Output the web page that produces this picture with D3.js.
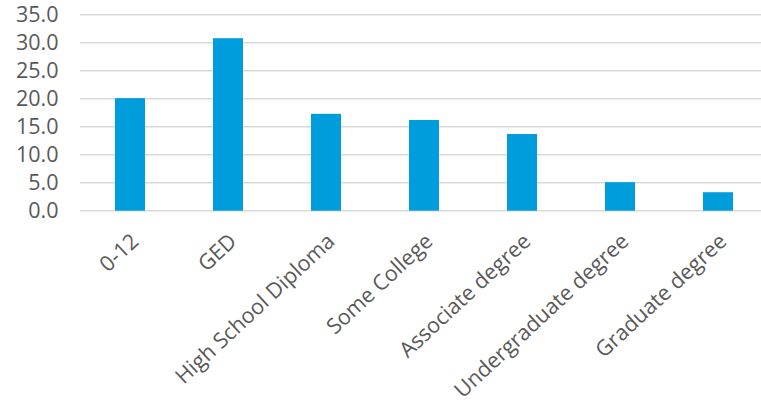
<!DOCTYPE html>
<html>
<head>
<meta charset="utf-8">
<script src="https://cdn.jsdelivr.net/npm/d3@7"></script>
<style>
html,body{margin:0;padding:0;background:#fff;}
svg{display:block;}
</style>
</head>
<body>
<svg id="chart" width="761" height="404"></svg>
<script>
const categories = ["0-12","GED","High School Diploma","Some College","Associate degree","Undergraduate degree","Graduate degree"];
const values = [20.1, 30.8, 17.3, 16.2, 13.7, 5.1, 3.3];
const yTicks = [0,5,10,15,20,25,30,35];

const svg = d3.select("#chart");
const font = "'Open Sans', sans-serif";
const textColor = "#595959";

const x = d3.scaleBand().domain(categories).range([81, 767]).paddingInner(0.694).paddingOuter(0.347);
const y = d3.scaleLinear().domain([0,35]).range([210.7, 14.7]);

// gridlines
svg.append("g").selectAll("line").data(yTicks).join("line")
  .attr("x1", 80).attr("x2", 761)
  .attr("y1", d => y(d)).attr("y2", d => y(d))
  .attr("stroke", "#d9d9d9").attr("stroke-width", 1.5);

// bars
svg.append("g").selectAll("rect").data(values).join("rect")
  .attr("x", (d,i) => x(categories[i]))
  .attr("width", x.bandwidth())
  .attr("y", d => y(d))
  .attr("height", d => y(0) - y(d))
  .attr("fill", "#009ddc");

// y axis labels
const yAxis = d3.axisLeft(y).tickValues(yTicks).tickFormat(d3.format(".1f")).tickSize(0).tickPadding(0);
const gy = svg.append("g").attr("transform", "translate(58.5,0)").call(yAxis);
gy.select(".domain").remove();
gy.selectAll("text").attr("font-family", font).attr("font-size", 21.5).attr("fill", textColor);

// x labels
const xAxis = d3.axisBottom(x).tickSize(0).tickPadding(0);
const gx = svg.append("g").call(xAxis);
gx.select(".domain").remove();
gx.selectAll(".tick").attr("transform", d => `translate(${x(d) + x.bandwidth()/2 + 10},243)`);
gx.selectAll("text")
  .attr("font-family", font).attr("font-size", 21.5).attr("fill", textColor)
  .attr("text-anchor", "end").attr("dy", 0).attr("y", 0)
  .attr("transform", "rotate(-43)");
</script>
</body>
</html>
